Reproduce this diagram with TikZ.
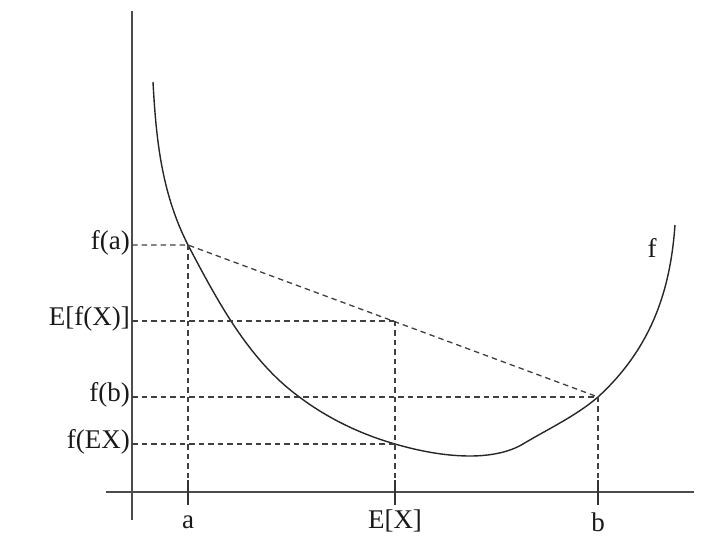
\documentclass[tikz,border=0pt]{standalone}
\usepackage{fontspec}
\setmainfont{Liberation Serif}
\begin{document}
\begin{tikzpicture}[x=1pt,y=-1pt,
  axis/.style={line width=1.6pt,draw=black!70},
  curve/.style={line width=1.4pt,draw=black!85},
  guide/.style={line width=1.3pt,draw=black!75,dash pattern=on 5.5pt off 4pt},
  tick/.style={line width=1.4pt,draw=black!80},
  lab/.style={font=\fontsize{27}{27}\selectfont,inner sep=0pt,text=black!90}]
\useasboundingbox (0,0) rectangle (724,548);
% axes
\coordinate (ytop) at (132,11);
\coordinate (ybot) at (132,520);
\coordinate (xl) at (106,492);
\coordinate (xr) at (694,492);
\draw[axis] (ytop) -- (ybot);
\draw[axis] (xl) -- (xr);
% key points
\coordinate (A) at (188,245);
\coordinate (M) at (395,321);
\coordinate (B) at (598,397);
\coordinate (C) at (395,444);
\coordinate (yA) at (132,245);
\coordinate (yM) at (132,321);
\coordinate (yB) at (132,397);
\coordinate (yC) at (132,444);
\coordinate (tA) at (188,480);
\coordinate (tM) at (395,480);
\coordinate (tB) at (598,480);
\coordinate (bA) at (188,505);
\coordinate (bM) at (395,505);
\coordinate (bB) at (598,505);
\coordinate (P0) at (153,82);
\coordinate (P2) at (298,396);
\coordinate (P4) at (470,456);
\coordinate (P5) at (523,444);
\coordinate (P7) at (675,225);
% curve
\draw[curve] (P0) .. controls (156,137) and (161,192) .. (A)
  .. controls (217,300) and (248,359) .. (P2)
  .. controls (327,418) and (360,434) .. (C)
  .. controls (419,451) and (445,456) .. (P4)
  .. controls (488,456) and (508,453) .. (P5)
  .. controls (548,429) and (576,416) .. (B)
  .. controls (657,343) and (671,280) .. (P7);
% guides
\draw[guide] (yA) -- (A) -- (B);
\draw[guide] (yM) -- (M);
\draw[guide] (yB) -- (B);
\draw[guide] (yC) -- (C);
\draw[guide] (A) -- (tA);
\draw[guide] (M) -- (tM);
\draw[guide] (B) -- (tB);
% ticks
\draw[tick] (tA) -- (bA);
\draw[tick] (tM) -- (bM);
\draw[tick] (tB) -- (bB);
% labels
\node[lab,anchor=east] (la) at (130,243) {f(a)};
\node[lab,anchor=east] (lm) at (130,319) {E[f(X)]};
\node[lab,anchor=east] (lb) at (130,395) {f(b)};
\node[lab,anchor=east] (lc) at (130,442) {f(EX)};
\node[lab,anchor=base] (xa) at (188,528) {a};
\node[lab,anchor=base] (xm) at (395,528) {E[X]};
\node[lab,anchor=base] (xb) at (598,532) {b};
\node[lab,anchor=base] (lf) at (652,258) {f};
\end{tikzpicture}
\end{document}
